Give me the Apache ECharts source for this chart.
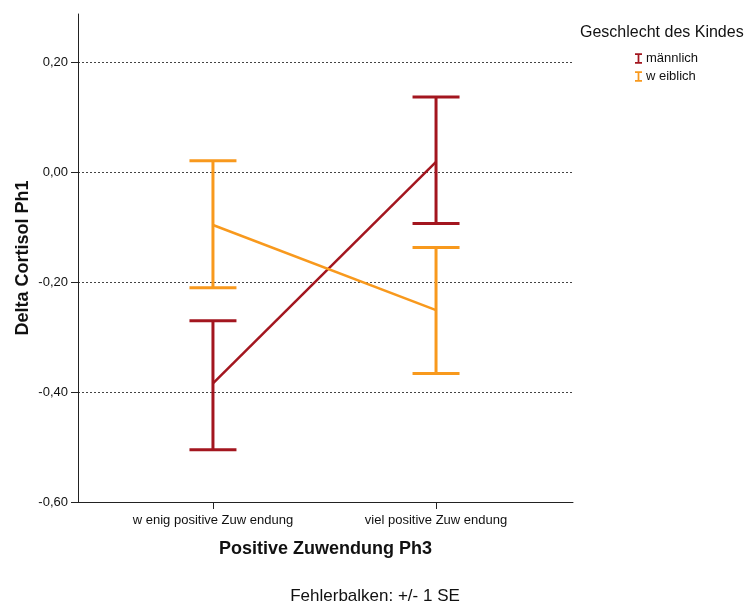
<!DOCTYPE html>
<html><head><meta charset="utf-8">
<script src="https://cdn.jsdelivr.net/npm/echarts@6/dist/echarts.min.js"></script>
<style>html,body{margin:0;padding:0;background:#fff}#c{width:750px;height:602px}</style>
</head><body><div id="c"></div>
<script>
const categories = ['w enig positive Zuw endung', 'viel positive Zuw endung'];
const groups = ['männlich', 'w eiblich'];
const meanMale = [-0.384, 0.019];
const lowMale = [-0.505, -0.093];
const highMale = [-0.270, 0.137];
const meanFemale = [-0.096, -0.251];
const lowFemale = [-0.210, -0.366];
const highFemale = [0.021, -0.137];
const yTicks = [-0.6, -0.4, -0.2, 0.0, 0.2];

const colors = ['#A3161F', '#F8991D'];
const chart = echarts.init(document.getElementById('c'));

function errSeries(name, color, low, high) {
  return {
    name: name, type: 'custom', z: 3,
    data: categories.map((c, i) => [i, low[i], high[i]]),
    renderItem: function (params, api) {
      const x = api.value(0);
      const lo = api.coord([x, api.value(1)]);
      const hi = api.coord([x, api.value(2)]);
      const hw = 23.5;
      const st = { stroke: color, lineWidth: 3, fill: null };
      return { type: 'group', children: [
        { type: 'line', shape: { x1: lo[0], y1: lo[1], x2: hi[0], y2: hi[1] }, style: st },
        { type: 'line', shape: { x1: lo[0] - hw, y1: lo[1], x2: lo[0] + hw, y2: lo[1] }, style: st },
        { type: 'line', shape: { x1: hi[0] - hw, y1: hi[1], x2: hi[0] + hw, y2: hi[1] }, style: st }
      ]};
    }
  };
}
function lineSeries(name, color, mean) {
  return {
    name: name, type: 'line', symbol: 'none', z: 4,
    data: categories.map((c, i) => [i, mean[i]]),
    lineStyle: { color: color, width: 2.5 }, itemStyle: { color: color }
  };
}
const iconI = 'path://M0,0H8V2H5V10H8V12H0V10H3V2H0Z';

chart.setOption({
  animation: false,
  color: colors,
  grid: { left: 78, right: 177, top: 14, bottom: 100, containLabel: false },
  title: {
    text: 'Fehlerbalken: +/- 1 SE', left: 'center', top: 588, padding: 0,
    textStyle: { fontFamily: 'Liberation Sans', fontSize: 17, fontWeight: 'normal', color: '#111', lineHeight: 17 }
  },
  graphic: [{
    type: 'text', left: 580, top: 25,
    style: { text: 'Geschlecht des Kindes', font: '16px "Liberation Sans"', fill: '#111' }
  }],
  legend: {
    orient: 'vertical', left: 630, top: 47, itemWidth: 7, itemHeight: 11, itemGap: 5,
    data: groups.map(g => ({ name: g, icon: iconI })),
    textStyle: { fontFamily: 'Liberation Sans', fontSize: 13, color: '#111', padding: [0, 0, 0, -1] }
  },
  xAxis: {
    type: 'value', min: -0.605, max: 1.614,
    name: 'Positive Zuwendung Ph3', nameLocation: 'middle', nameGap: 38, nameMoveOverlap: false,
    nameTextStyle: { fontFamily: 'Liberation Sans', fontSize: 18, fontWeight: 'bold', color: '#111' },
    axisLine: { show: true, onZero: false, lineStyle: { color: '#222', width: 1 } },
    axisTick: { show: true, length: 7, customValues: [0, 1], lineStyle: { color: '#222' } },
    axisLabel: { customValues: [0, 1], margin: 12, fontFamily: 'Liberation Sans', fontSize: 13, color: '#111',
      formatter: v => categories[Math.round(v)] || '' },
    splitLine: { show: false }
  },
  yAxis: {
    type: 'value', min: -0.6, max: 0.288, interval: 0.2,
    name: 'Delta Cortisol Ph1', nameLocation: 'middle', nameGap: 46, nameMoveOverlap: false,
    nameTextStyle: { fontFamily: 'Liberation Sans', fontSize: 18, fontWeight: 'bold', color: '#111' },
    axisLine: { show: true, onZero: false, lineStyle: { color: '#222', width: 1 } },
    axisTick: { show: true, length: 7, customValues: yTicks, lineStyle: { color: '#222' } },
    axisLabel: { customValues: yTicks, margin: 10, fontFamily: 'Liberation Sans', fontSize: 13, color: '#111',
      formatter: v => v.toFixed(2).replace('.', ',') },
    splitLine: { show: true, showMinLine: false, showMaxLine: true,
      lineStyle: { color: '#444', type: [2, 2], width: 1 } }
  },
  series: [
    lineSeries(groups[0], colors[0], meanMale),
    lineSeries(groups[1], colors[1], meanFemale),
    errSeries(groups[0], colors[0], lowMale, highMale),
    errSeries(groups[1], colors[1], lowFemale, highFemale)
  ]
});
</script></body></html>
